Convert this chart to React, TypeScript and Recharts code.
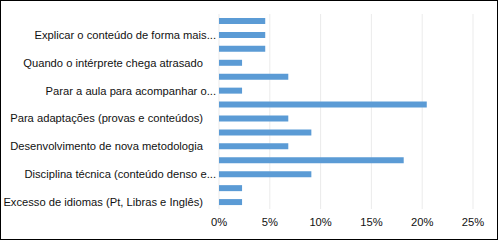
import React from 'react';
import { BarChart, Bar, XAxis, YAxis, CartesianGrid } from 'recharts';

// Excel order: first category is drawn at the bottom
const categories = [
  'Excesso de idiomas (Pt, Libras e Inglês)',
  'Falta de material adaptado',
  'Disciplina técnica (conteúdo denso e...',
  'Falta de sinais específicos',
  'Desenvolvimento de nova metodologia',
  'Ritmo acelerado da aula',
  'Para adaptações (provas e conteúdos)',
  'Comunicação com o professor',
  'Parar a aula para acompanhar o...',
  'Falta de planejamento conjunto',
  'Quando o intérprete chega atrasado',
  'Trabalhos em grupo',
  'Explicar o conteúdo de forma mais...',
  'Vídeos sem legenda'
];
const shares = [
  0.0227, 0.0227, 0.0909, 0.1818, 0.0682, 0.0909, 0.0682,
  0.2045, 0.0227, 0.0682, 0.0227, 0.0455, 0.0455, 0.0455
];
const xTicks = [0, 0.05, 0.1, 0.15, 0.2, 0.25];

const data = categories.map((name, i) => ({ name, value: shares[i] }));

const font = '"Liberation Sans", Arial, sans-serif';

const CategoryTick = (props: any) => {
  const { x, y, payload } = props;
  const label: string = payload.value;
  const shift = label.endsWith('...') ? 3 : 16;
  return (
    <text x={x - shift} y={y} dy="0.35em" textAnchor="end" fill="#111" fontSize={11.2} fontFamily={font}>
      {label}
    </text>
  );
};

export default function App() {
  document.body.style.margin = '0';
  return (
    <div style={{ width: 498, height: 240, boxSizing: 'border-box', border: '1px solid #000', position: 'relative', background: '#fff' }}>
      <div style={{ position: 'absolute', left: -1, top: -1 }}>
        <BarChart
          width={498}
          height={240}
          data={data}
          layout="vertical"
          margin={{ top: 14, right: 25, left: 0, bottom: 0 }}
          barSize={6}
        >
          <CartesianGrid horizontal={false} stroke="#ebebeb" />
          <XAxis
            type="number"
            domain={[0, 0.25]}
            ticks={xTicks}
            tickFormatter={(v: number) => `${Math.round(v * 100)}%`}
            axisLine={false}
            tickLine={false}
            tickSize={0}
            tickMargin={9}
            height={31}
            tick={{ fill: '#111', fontSize: 11.2, fontFamily: font }}
          />
          <YAxis
            type="category"
            dataKey="name"
            reversed
            interval={1}
            width={219}
            axisLine={false}
            tickLine={false}
            tickSize={0}
            tickMargin={0}
            tick={<CategoryTick />}
          />
          <Bar dataKey="value" fill="#5B9BD5" isAnimationActive={false} />
        </BarChart>
      </div>
    </div>
  );
}
